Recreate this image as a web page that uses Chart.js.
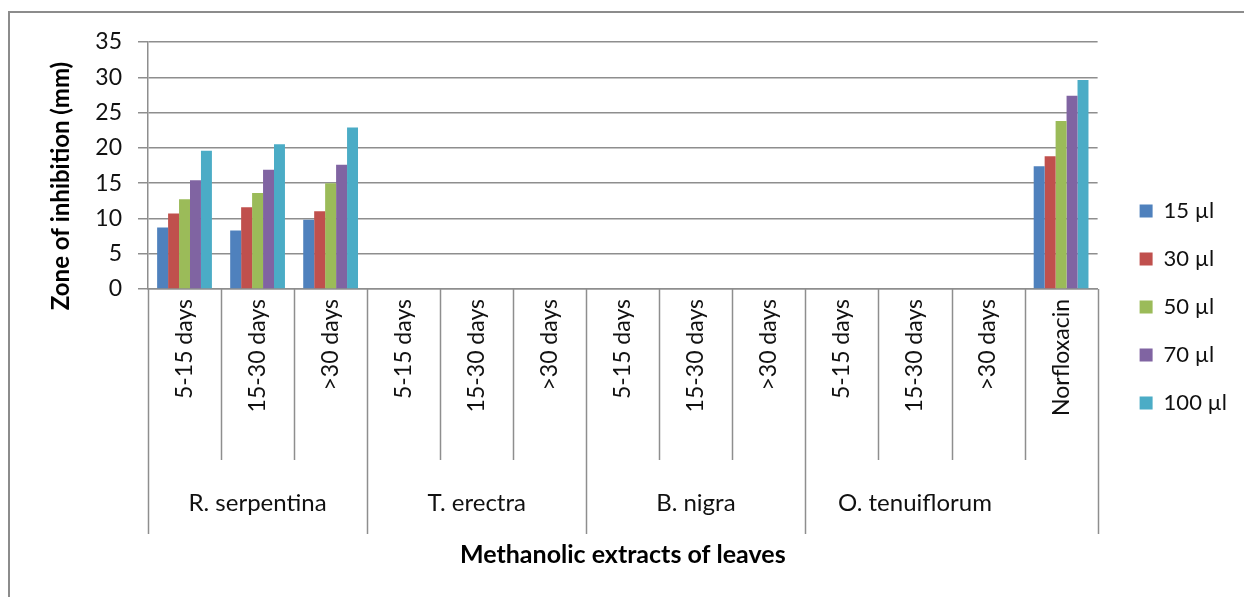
<!DOCTYPE html>
<html>
<head>
<meta charset="utf-8">
<script src="https://cdn.jsdelivr.net/npm/chart.js@4/dist/chart.umd.min.js"></script>
<style>
  html, body { margin: 0; padding: 0; background: #ffffff; }
  #wrap { width: 1244px; height: 597px; position: relative; }
</style>
</head>
<body>
<div id="wrap"><canvas id="chart" width="1244" height="597"></canvas></div>
<script>
// Categories along the x axis (harvest age of the leaves) and the outer grouping
const categories = [
  '5-15 days', '15-30 days', '>30 days',
  '5-15 days', '15-30 days', '>30 days',
  '5-15 days', '15-30 days', '>30 days',
  '5-15 days', '15-30 days', '>30 days',
  'Norfloxacin'
];
const groupNames = ['R. serpentina', 'T. erectra', 'B. nigra', 'O. tenuiflorum'];
const groupSpans = [3, 3, 3, 3];

// Zone of inhibition (mm) per extract volume
const seriesNames = ['15 µl', '30 µl', '50 µl', '70 µl', '100 µl'];
const vol15  = [8.7, 8.3, 9.8, 0, 0, 0, 0, 0, 0, 0, 0, 0, 17.4];
const vol30  = [10.7, 11.6, 11.0, 0, 0, 0, 0, 0, 0, 0, 0, 0, 18.8];
const vol50  = [12.7, 13.6, 15.0, 0, 0, 0, 0, 0, 0, 0, 0, 0, 23.8];
const vol70  = [15.4, 16.9, 17.6, 0, 0, 0, 0, 0, 0, 0, 0, 0, 27.4];
const vol100 = [19.6, 20.5, 22.9, 0, 0, 0, 0, 0, 0, 0, 0, 0, 29.6];

const yTicks = [0, 5, 10, 15, 20, 25, 30, 35];
const yTitle = 'Zone of inhibition (mm)';
const xTitle = 'Methanolic extracts of leaves';

const colors = ['#4F81BD', '#C0504D', '#9BBB59', '#8064A2', '#4BACC6'];
const seriesData = [vol15, vol30, vol50, vol70, vol100];

const FONT = 'Lato, "Open Sans", sans-serif';
const GRID = '#8e8e8e';

// Frame around the whole chart
const framePlugin = {
  id: 'frame',
  beforeDraw(chart) {
    const ctx = chart.ctx;
    ctx.save();
    ctx.fillStyle = '#ffffff';
    ctx.fillRect(0, 0, chart.width, chart.height);
    ctx.strokeStyle = '#8c8c8c';
    ctx.lineWidth = 2;
    ctx.beginPath();
    ctx.moveTo(9, chart.height + 5);
    ctx.lineTo(9, 12);
    ctx.lineTo(chart.width + 5, 12);
    ctx.stroke();
    ctx.restore();
  }
};

// Category separators below the axis, outer group labels and the value-axis title
const groupAxisPlugin = {
  id: 'groupAxis',
  afterDraw(chart) {
    const x = chart.scales.x;
    const ctx = chart.ctx;
    const n = categories.length;
    const half = (x.getPixelForValue(1) - x.getPixelForValue(0)) / 2;
    const edge = i => (i < n ? x.getPixelForValue(i) - half : x.getPixelForValue(n - 1) + half);
    const base = chart.chartArea.bottom;
    const innerEnd = base + 171;
    const outerEnd = base + 245;

    // indices where an outer group begins or ends
    const outer = new Set([0, n]);
    let acc = 0;
    groupSpans.forEach(s => { acc += s; outer.add(acc); });
    const lastGroupEnd = acc;

    ctx.save();
    ctx.strokeStyle = GRID;
    ctx.lineWidth = 1.5;
    for (let i = 0; i <= n; i++) {
      const px = Math.round(edge(i)) + 0.5;
      const long = outer.has(i) && i !== lastGroupEnd;
      ctx.beginPath();
      ctx.moveTo(px, base);
      ctx.lineTo(px, long ? outerEnd : innerEnd);
      ctx.stroke();
    }
    ctx.fillStyle = '#111111';
    ctx.font = '24px ' + FONT;
    ctx.textAlign = 'center';
    ctx.textBaseline = 'middle';
    let start = 0;
    groupNames.forEach((g, k) => {
      const cx = (edge(start) + edge(start + groupSpans[k])) / 2;
      ctx.fillText(g, cx, base + 214);
      start += groupSpans[k];
    });

    // value-axis title
    ctx.translate(61, 186);
    ctx.rotate(-Math.PI / 2);
    ctx.fillStyle = '#000000';
    ctx.font = 'bold 24px ' + FONT;
    ctx.fillText(yTitle, 0, 0);
    ctx.restore();
  }
};

new Chart(document.getElementById('chart'), {
  type: 'bar',
  data: {
    labels: categories,
    datasets: seriesNames.map((name, i) => ({
      label: name,
      data: seriesData[i],
      backgroundColor: colors[i],
      borderWidth: 0,
      categoryPercentage: 0.75,
      barPercentage: 1.0
    }))
  },
  options: {
    responsive: false,
    animation: false,
    events: [],
    layout: { padding: { top: 42, bottom: 25, left: 10, right: 7 } },
    plugins: {
      tooltip: { enabled: false },
      legend: {
        position: 'right',
        align: 'center',
        labels: {
          boxWidth: 13,
          boxHeight: 13,
          padding: 26,
          color: '#111111',
          font: { family: FONT, size: 22 }
        }
      }
    },
    scales: {
      x: {
        offset: true,
        grid: { display: true, drawOnChartArea: false, drawTicks: false, offset: true, color: 'rgba(0,0,0,0)' },
        border: { display: true, color: GRID, width: 1.5 },
        ticks: {
          autoSkip: false,
          minRotation: 90,
          maxRotation: 90,
          padding: 10,
          color: '#111111',
          font: { family: FONT, size: 23 }
        },
        title: {
          display: true,
          text: xTitle,
          color: '#000000',
          font: { family: FONT, size: 25, weight: 'bold', lineHeight: 1.2 },
          padding: { top: 0, bottom: 2 }
        },
        afterFit(scale) { scale.height = 283; }
      },
      y: {
        min: 0,
        max: 35,
        afterBuildTicks(scale) { scale.ticks = yTicks.map(v => ({ value: v })); },
        grid: { color: GRID, lineWidth: 1.5, tickLength: 10 },
        border: { display: true, color: GRID, width: 1.5 },
        ticks: {
          padding: 16,
          color: '#111111',
          font: { family: FONT, size: 23 }
        },
        title: { display: false },
        afterFit(scale) { scale.width = 138; }
      },
      spacer: {
        type: 'linear',
        position: 'right',
        display: true,
        grid: { display: false },
        border: { display: false },
        ticks: { display: false },
        afterFit(scale) { scale.width = 16; }
      }
    }
  },
  plugins: [framePlugin, groupAxisPlugin]
});
</script>
</body>
</html>
